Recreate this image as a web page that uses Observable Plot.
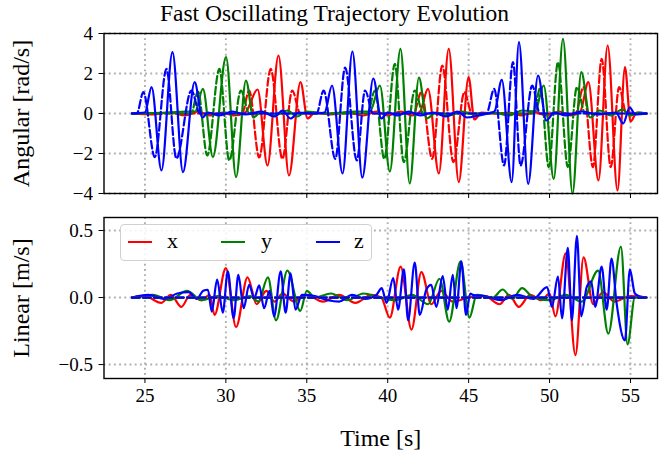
<!DOCTYPE html>
<html><head><meta charset="utf-8">
<script src="https://cdn.jsdelivr.net/npm/d3@7"></script>
<script src="https://cdn.jsdelivr.net/npm/@observablehq/plot@0.6"></script>
<style>
body{margin:0;background:#fff;}
#fig{position:relative;width:669px;height:453px;overflow:hidden;font-family:"Liberation Serif","DejaVu Serif",serif;color:#000;}
#title{position:absolute;top:0;left:0;width:669px;text-align:center;font-size:23.5px;line-height:27px;}
.panel{position:absolute;left:0;}
#legend{position:absolute;left:120px;top:224px;width:250px;height:35px;border:1.3px solid #d0d0d0;border-radius:4px;background:rgba(255,255,255,0.85);}
.lg{position:absolute;height:2.2px;top:16px;width:24px;}
.lt{position:absolute;top:4px;font-size:22px;line-height:24px;}
</style></head><body>
<div id="fig">
  <div id="top" class="panel" style="top:0px"></div>
  <div id="bot" class="panel" style="top:200px"></div>
  <div id="title">Fast Oscillating Trajectory Evolution</div>
  <div id="legend"></div>
</div>
<script>
// ---------------- data (time [s], value) ----------------
const xTicks = [25, 30, 35, 40, 45, 50, 55];
const angTicks = [-4, -2, 0, 2, 4];
const linTicks = [-0.5, 0, 0.5];
const axisNames = ["x", "y", "z"];
const axisColors = ["#ff0000", "#008000", "#0000ff"];

// angular reference (dashed)
const angRefX = [[24.2,0],[31.0,0],[31.44,1.15],[32.06,-2.2],[32.77,2.23],[33.49,-2.27],[34.1,1.15],[34.6,0],
  [41.6,0],[42.08,1.07],[42.75,-2.27],[43.37,2.4],[44.06,-2.43],[44.74,1.07],[45.2,0],
  [51.6,0],[52.1,1.32],[52.68,-2.68],[53.22,2.73],[53.78,-2.68],[54.3,1.32],[54.75,0],[56.0,0]];
const angRefY = [[24.2,0],[27.85,0],[28.28,1.1],[28.85,-2.1],[29.6,2.23],[30.21,-2.35],[30.93,1.15],[31.45,0],
  [38.75,0],[39.21,1.15],[39.79,-2.27],[40.44,2.48],[40.99,-2.43],[41.67,1.15],[42.2,0],
  [49.0,0],[49.44,1.32],[49.95,-2.68],[50.52,2.57],[51.13,-2.68],[51.69,1.32],[52.2,0],[56.0,0]];
const angRefZ = [[24.2,0],[24.5,0],[24.9,1.07],[25.61,-2.18],[26.33,2.23],[26.94,-2.25],[27.87,1.15],[28.4,0],
  [35.6,0],[36.04,1.15],[36.76,-2.27],[37.37,2.3],[38.09,-2.35],[38.6,1.15],[39.1,0],
  [46.1,0],[46.58,1.23],[47.19,-2.6],[47.74,2.57],[48.21,-2.6],[48.93,1.4],[49.4,0],[56.0,0]];

// angular measured (solid)
const angMeasX = [[24.2,0],[25.5,-0.05],[26.5,0.05],[27.5,-0.1],[28.3,0.1],[29.0,-0.1],[29.8,0.05],[30.5,-0.1],[31.2,0.05],
  [31.96,1.2],[32.57,-2.6],[33.25,2.9],[33.9,-3.1],[34.61,1.57],[35.05,-0.25],[35.5,0.05],[36.5,-0.05],[37.5,0.05],
  [38.5,-0.1],[39.3,0.1],[40.0,-0.1],[40.8,0.1],[41.5,-0.1],[42.0,0.1],
  [42.49,1.23],[43.16,-3.0],[43.77,3.23],[44.39,-3.43],[45.0,1.82],[45.35,-0.3],[45.8,0.05],[46.8,0],[47.5,0.05],
  [48.3,-0.1],[49.0,0.1],[49.8,-0.1],[50.6,0.1],[51.3,-0.1],[51.9,0.1],
  [52.4,1.57],[53.02,-3.35],[53.59,3.4],[54.2,-3.85],[54.66,2.32],[55.0,-0.4],[55.4,0.05],[56.0,0]];
const angMeasY = [[24.2,0],[26.5,0.05],[27.5,0.1],[28.1,0.1],
  [28.58,1.23],[29.2,-2.18],[30.01,2.82],[30.63,-3.18],[31.24,1.65],[31.7,-0.2],[32.2,0.1],[33.0,-0.1],[33.8,0.15],
  [34.4,-0.15],[35.0,0.1],[35.6,0.05],[36.4,0],[37.2,0.05],[38.0,0.1],[38.9,0.1],
  [39.52,1.4],[40.13,-2.9],[40.79,3.23],[41.36,-3.5],[41.93,1.8],[42.4,-0.25],[43.0,0.05],[43.8,-0.1],[44.6,0.1],
  [45.4,-0.05],[46.5,0.05],[47.5,-0.1],[48.3,0.15],[49.1,0.1],
  [49.64,1.4],[50.26,-3.27],[50.83,3.73],[51.42,-4.0],[51.96,2.07],[52.5,-0.2],[53.1,0.15],[53.8,-0.1],[54.5,0.2],
  [55.0,-0.1],[55.5,0.05],[56.0,0]];
const angMeasZ = [[24.2,0],[25.0,0.05],
  [25.41,1.32],[26.02,-2.85],[26.7,3.07],[27.35,-2.93],[28.07,1.57],[28.55,-0.2],[28.9,0.05],[29.6,-0.1],[30.4,0.1],
  [31.2,-0.05],[32.2,0.1],[33.0,-0.15],[33.5,0.15],[34.0,-0.25],[34.5,0.05],[35.5,0],[36.1,0.05],
  [36.56,1.4],[37.21,-3.0],[37.82,3.1],[38.43,-3.2],[39.11,1.75],[39.6,-0.25],[40.0,0.05],[40.6,-0.1],[41.3,0.1],
  [42.0,-0.1],[42.8,0.05],[43.6,-0.15],[44.3,0.1],[44.9,-0.2],[45.6,-0.1],[46.2,0],[46.6,0.1],
  [47.05,1.68],[47.66,-3.43],[48.11,3.57],[48.68,-3.52],[49.29,1.9],[49.8,-0.35],[50.3,0.05],[51.0,-0.1],[52.0,0.1],
  [53.0,-0.05],[54.1,0.05],[54.55,-0.5],[54.95,0.3],[55.3,-0.05],[56.0,0]];

// linear measured (solid); linear reference is zero
const linRefT = [24.2, 56.0];
const linRefV = [0, 0];
const linX = [[24.2,0],[25.0,0.01],[26.0,-0.04],[26.6,0.02],[27.25,-0.07],[27.8,0.02],[28.5,-0.02],[29.0,0.02],
  [29.3,-0.13],[30.0,0.22],[30.63,-0.22],[31.34,0.15],[31.9,-0.05],[32.5,0.05],[33.0,-0.03],[33.5,0.03],[34.2,-0.03],
  [35.0,0.02],[36.0,-0.03],[37.0,0.02],[38.0,-0.04],[39.0,0.02],[39.6,0.0],
  [40.13,-0.15],[40.8,0.23],[41.47,-0.24],[42.08,0.19],[42.7,-0.05],[43.3,0.05],[44.0,-0.03],[45.0,0.0],[46.0,0.01],
  [46.9,-0.05],[47.5,0.02],[48.1,-0.07],[48.8,0.02],[49.5,-0.02],[50.0,0.03],
  [50.36,-0.14],[51.0,0.33],[51.6,-0.43],[52.1,0.3],[52.7,-0.05],[53.3,0.04],[54.0,-0.03],[55.0,0.01],[56.0,0]];
const linY = [[24.2,0],[25.5,0.02],[26.5,-0.02],[27.6,0.05],[28.5,-0.02],[29.5,0.01],[30.5,-0.02],[31.5,0.01],[32.0,-0.03],
  [32.6,0.15],[33.1,-0.17],[33.8,0.2],[34.6,-0.1],[35.0,0.05],[35.5,0.0],[36.5,0.03],[37.5,-0.02],[38.5,0.03],
  [39.5,0.0],[40.5,-0.02],[41.5,0.02],[42.5,-0.05],
  [43.2,0.14],[43.8,-0.18],[44.5,0.27],[45.05,-0.15],[45.5,0.02],[46.5,0.0],[47.1,0.06],[47.7,-0.01],[48.3,0.07],
  [49.0,0],[50.0,-0.02],[51.0,0.02],[52.0,-0.03],
  [53.0,0.2],[53.63,-0.27],[54.41,0.38],[54.82,-0.35],[55.27,0.0],[56.0,0]];
const linZ = [[24.2,0],[25.2,0.02],[26.2,-0.01],[27.0,0.03],[27.7,0.04],[28.2,-0.01],[28.6,0.05],
  [28.89,0.058],[29.13,-0.105],[29.46,0.133],[29.81,-0.113],[30.12,0.195],[30.48,-0.155],[30.77,0.17],[31.1,-0.08],
  [31.44,0.095],[31.75,-0.005],[32.06,0.09],[32.36,-0.08],[32.7,0.05],[32.98,-0.14],[33.39,0.195],[33.69,-0.113],
  [34.0,0.18],[34.3,-0.09],[34.7,0.02],[35.5,0.01],[36.3,-0.02],[37.0,-0.03],[37.8,0.02],[38.6,-0.01],[39.3,0.02],
  [39.63,0.07],[39.93,-0.04],[40.34,0.145],[40.64,-0.09],[41.0,0.21],[41.26,-0.17],[41.67,0.26],[41.98,-0.13],
  [42.39,0.06],[42.69,0.095],[43.0,-0.07],[43.4,0.16],[43.71,-0.09],[44.02,0.17],[44.25,-0.08],[44.55,0.27],
  [44.84,-0.13],[45.1,0.03],[45.25,0.02],[46.0,0.01],[47.0,-0.02],[48.0,0.02],[49.0,-0.01],
  [49.85,0.078],[50.15,-0.07],[50.52,0.157],[50.77,-0.155],[51.13,0.37],[51.38,-0.17],[51.69,0.46],[51.96,-0.14],
  [52.3,0.08],[52.57,0.12],[52.82,-0.07],[53.22,0.23],[53.53,-0.09],[53.83,0.29],[54.14,-0.04],[54.66,-0.32],
  [54.96,0.21],[55.27,0.03],[55.58,0.007],[55.98,0]];

// ---------------- build tables ----------------
const toRows = (pairs, axis, kind) => pairs.map(([t, v]) => ({t, v, axis, kind}));
const angMeas = [angMeasX, angMeasY, angMeasZ];
const angRef = [angRefX, angRefY, angRefZ];
const linMeas = [linX, linY, linZ];

const X0 = 22.47, X1 = 56.67;
const FONT = "'Liberation Serif','DejaVu Serif',serif";
const gridStyle = {stroke: "#b0b0b0", strokeOpacity: 1, strokeWidth: 1.9, strokeDasharray: "1.9,3.3"};
const DASH = "7.7,3.3";

const topPlot = Plot.plot({
  width: 669, height: 200,
  marginLeft: 103.5, marginRight: 12, marginTop: 33, marginBottom: 7,
  x: {domain: [X0, X1]},
  y: {domain: [-4, 4]},
  style: {fontFamily: FONT, fontSize: "19px", color: "black", background: "transparent", overflow: "visible"},
  marks: [
    Plot.gridX(xTicks, gridStyle),
    Plot.gridY(angTicks, gridStyle),
    ...[0,1,2].flatMap(i => [
      Plot.line(toRows(angMeas[i], axisNames[i], "meas"), {x: "t", y: "v", stroke: axisColors[i], strokeWidth: 2.2, curve: "monotone-x"}),
      Plot.line(toRows(angRef[i], axisNames[i], "ref"), {x: "t", y: "v", stroke: axisColors[i], strokeWidth: 2.2, curve: "monotone-x", strokeDasharray: DASH})
    ]),
    Plot.frame({stroke: "black", strokeWidth: 1.4}),
    Plot.axisX(xTicks, {tickSize: 5, tickFormat: () => "", label: null}),
    Plot.axisY(angTicks, {tickSize: 5, tickPadding: 6, tickFormat: d3.format("d"), fontSize: 19,
      label: "Angular [rad/s]", labelAnchor: "center", labelArrow: "none", labelOffset: 92})
  ]
});
topPlot.querySelectorAll("[aria-label='y-axis label']").forEach(e => e.setAttribute("font-size", "24"));
document.getElementById("top").appendChild(topPlot);

const linRef = linRefT.map((t, k) => [t, linRefV[k]]);
const botPlot = Plot.plot({
  width: 669, height: 253,
  marginLeft: 103.5, marginRight: 12, marginTop: 17, marginBottom: 75,
  x: {domain: [X0, X1]},
  y: {domain: [-0.604, 0.597]},
  style: {fontFamily: FONT, fontSize: "19px", color: "black", background: "transparent", overflow: "visible"},
  marks: [
    Plot.gridX(xTicks, gridStyle),
    Plot.gridY(linTicks, gridStyle),
    ...[0,1,2].map(i => Plot.line(toRows(linMeas[i], axisNames[i], "meas"), {x: "t", y: "v", stroke: axisColors[i], strokeWidth: 2.2, curve: "monotone-x"})),
    ...[0,1,2].map(i => Plot.line(toRows(linRef, axisNames[i], "ref"), {x: "t", y: "v", stroke: axisColors[i], strokeWidth: 2.2, strokeDasharray: DASH})),
    Plot.frame({stroke: "black", strokeWidth: 1.4}),
    Plot.axisX(xTicks, {tickSize: 5, tickPadding: 5, tickFormat: d3.format("d"), fontSize: 19,
      label: "Time [s]", labelAnchor: "center", labelArrow: "none", labelOffset: 67}),
    Plot.axisY(linTicks, {tickSize: 5, tickPadding: 6, tickFormat: d3.format(".1f"), fontSize: 19,
      label: "Linear [m/s]", labelAnchor: "center", labelArrow: "none", labelOffset: 92})
  ]
});
botPlot.querySelectorAll("[aria-label='y-axis label'], [aria-label='x-axis label']").forEach(e => e.setAttribute("font-size", "24"));
document.getElementById("bot").appendChild(botPlot);

// legend
const lg = document.getElementById("legend");
const lineX = [7, 100, 195], textX = [46, 140, 233];
axisNames.forEach((n, i) => {
  const l = document.createElement("div"); l.className = "lg";
  l.style.left = lineX[i] + "px"; l.style.background = axisColors[i]; lg.appendChild(l);
  const t = document.createElement("div"); t.className = "lt";
  t.style.left = textX[i] + "px"; t.textContent = n; lg.appendChild(t);
});
</script>
</body></html>
